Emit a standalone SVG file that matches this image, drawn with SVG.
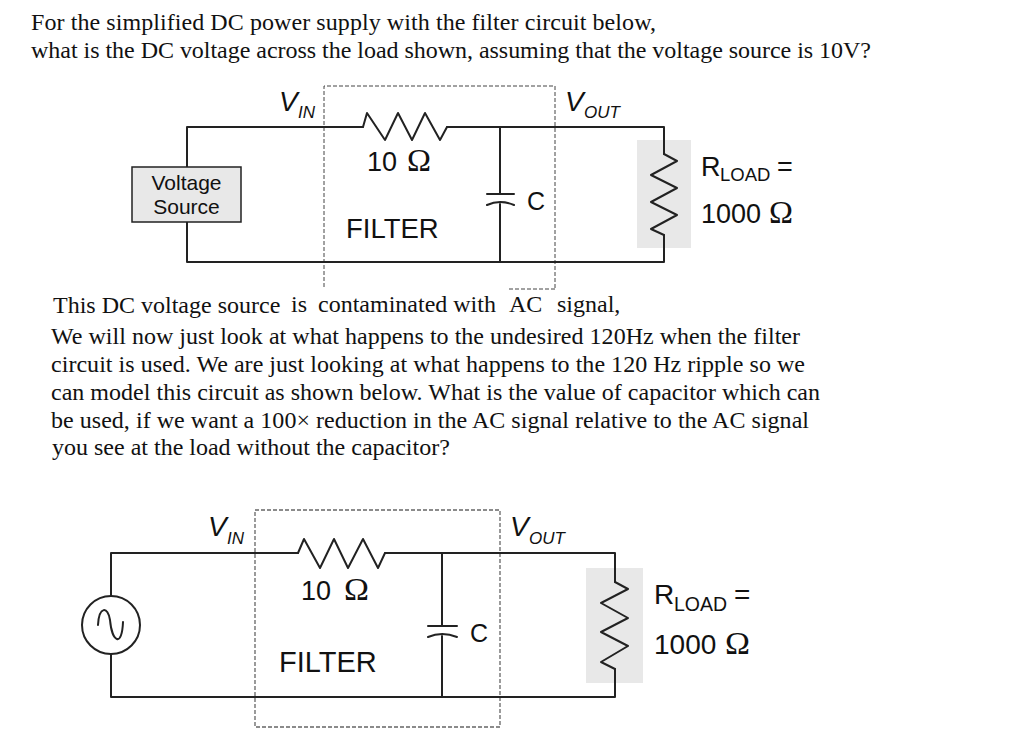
<svg xmlns="http://www.w3.org/2000/svg" width="1024" height="750" viewBox="0 0 1024 750">
<style>
.t{font-family:"Liberation Serif","Times New Roman",serif;font-size:24px;fill:#111}
.a{font-family:"Liberation Sans",Arial,sans-serif;fill:#111}
.o{font-family:"Liberation Serif","Times New Roman",serif;font-size:32px;fill:#111}
.w{fill:none;stroke:#222;stroke-width:2;stroke-linejoin:round;stroke-linecap:round}
.d{fill:none;stroke:#444;stroke-width:1;stroke-dasharray:4 2}
.e{fill:none;stroke:#666;stroke-width:1.300;stroke-dasharray:4 2}
.g{fill:#e8e8e8}
.s{font-size:27px}
.i{font-size:28px;font-style:italic}
.u{font-size:17px;font-style:italic}
</style>
<rect width="1024" height="750" fill="#fff"/>
<g id="text">
<text class="t" x="31" y="30" textLength="625">For the simplified DC power supply with the filter circuit below,</text>
<text class="t" x="31" y="58" textLength="840">what is the DC voltage across the load shown, assuming that the voltage source is 10V?</text>
<text class="t" x="53" y="313">This DC voltage source</text>
<text class="t" x="291" y="312">is</text>
<text class="t" x="318" y="312">contaminated with</text>
<text class="t" x="509" y="312">AC</text>
<text class="t" x="557" y="312">signal,</text>
<text class="t" x="51" y="344" textLength="749">We will now just look at what happens to the undesired 120Hz when the filter</text>
<text class="t" x="51" y="372" textLength="754">circuit is used. We are just looking at what happens to the 120 Hz ripple so we</text>
<text class="t" x="51" y="400" textLength="769">can model this circuit as shown below. What is the value of capacitor which can</text>
<text class="t" x="51" y="428" textLength="758">be used, if we want a 100× reduction in the AC signal relative to the AC signal</text>
<text class="t" x="52" y="455">you see at the load without the capacitor?</text>
</g>
<g id="filter-box-top">
<path class="d" d="M324 287V86H555V288M509 289H555"/>
</g>
<g id="filter-box-bottom">
<path class="e" d="M255 510H500V727H255Z"/>
</g>
<g id="load-bg-top"><rect class="g" x="637" y="140" width="54" height="108"/></g>
<g id="load-bg-bottom"><rect class="g" x="586" y="568" width="57" height="115"/></g>
<g id="connectors">
<path class="w" d="M187 167V127H363M447 127H664V154M664 235V262H187V222"/>
<path class="w" d="M500 127V194M500 204V262"/>
<path class="w" d="M111 596V553H298M385 553H615V582M615 669V697H111V654"/>
<path class="w" d="M442 553V626M442 636V697"/>
</g>
<g id="voltage-source">
<rect x="132" y="167" width="109" height="55" fill="#e8e8e8" stroke="#222" stroke-width="1.500"/>
<text class="a" font-size="21" x="186.500" y="190" text-anchor="middle">Voltage</text>
<text class="a" font-size="21" x="186.500" y="214" text-anchor="middle">Source</text>
</g>
<g id="vin-top"><text class="a i" x="279" y="111">V</text><text class="a u" x="298" y="118">IN</text></g>
<g id="vout-top"><text class="a i" x="565" y="111">V</text><text class="a u" x="584" y="118">OUT</text></g>
<g id="r-top">
<path class="w" d="M363 127L367 113L385 140L398 113L412 140L425 113L440 140L447 127"/>
<text class="a s" x="367" y="171">10</text><text class="o" x="407" y="171" textLength="24" lengthAdjust="spacingAndGlyphs">Ω</text>
</g>
<g id="c-top">
<path class="w" d="M487 194H514M487 205Q500 199 514 205"/>
<text class="a" font-size="25" x="527" y="210">C</text>
</g>
<g id="filter-label-top"><text class="a" font-size="27.500" x="346" y="238">FILTER</text></g>
<g id="rload-top">
<path class="w" d="M664 154L677 161L651 175L677 188L651 202L677 215L651 229L664 235"/>
<text class="a s" x="701" y="176">R</text><text class="a" font-size="18.500" x="720" y="181">LOAD</text><text class="a s" x="777" y="176">=</text>
<text class="a s" x="701" y="223">1000</text><text class="o" x="769" y="223" textLength="24" lengthAdjust="spacingAndGlyphs">Ω</text>
</g>
<g id="ac-source">
<circle cx="111" cy="625" r="29" fill="#fff" stroke="#222" stroke-width="2"/>
<path d="M98 625C99 606 108 606 110 620C112 642 122 648 123 622" fill="none" stroke="#222" stroke-width="2" stroke-linecap="round"/>
</g>
<g id="vin-bottom"><text class="a i" x="208" y="536">V</text><text class="a u" x="227" y="544">IN</text></g>
<g id="vout-bottom"><text class="a i" x="510" y="536">V</text><text class="a u" x="529" y="544">OUT</text></g>
<g id="r-bottom">
<path class="w" d="M298 553L304 539L320 568L334 539L348 568L363 539L378 568L385 553"/>
<text class="a s" x="301" y="600">10</text><text class="o" x="344" y="600" textLength="25" lengthAdjust="spacingAndGlyphs">Ω</text>
</g>
<g id="c-bottom">
<path class="w" d="M428 626H457M428 637Q442 631 457 637"/>
<text class="a" font-size="25" x="470" y="642">C</text>
</g>
<g id="filter-label-bottom"><text class="a" font-size="29" x="279" y="672">FILTER</text></g>
<g id="rload-bottom">
<path class="w" d="M615 582L628 589L601 603L628 618L601 632L628 646L601 662L615 669"/>
<text class="a" font-size="28" x="654" y="604">R</text><text class="a" font-size="19.500" x="674" y="611">LOAD</text><text class="a" font-size="28" x="734" y="604">=</text>
<text class="a" font-size="28" x="654" y="654">1000</text><text class="o" x="725" y="654" textLength="25" lengthAdjust="spacingAndGlyphs">Ω</text>
</g>
</svg>
